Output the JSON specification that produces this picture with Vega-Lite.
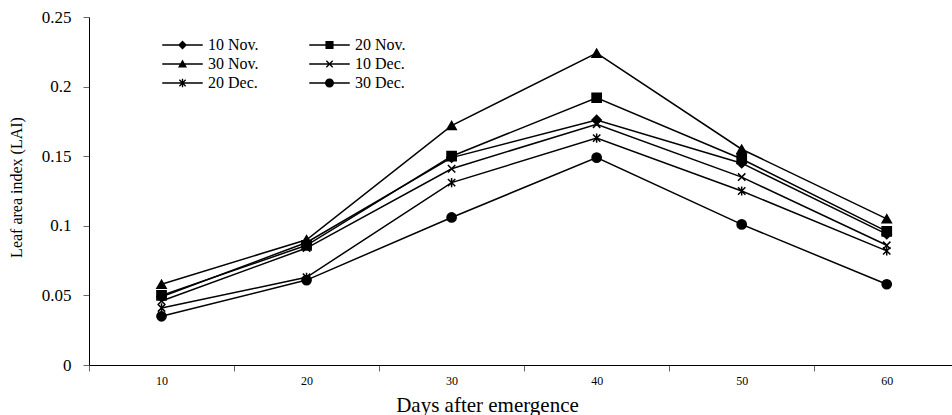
{
  "$schema": "https://vega.github.io/schema/vega-lite/v6.json",
  "width": 863,
  "height": 348,
  "autosize": "none",
  "padding": {"left": 89, "top": 17, "right": 0, "bottom": 50},
  "background": "white",
  "config": {"view": {"stroke": null}, "font": "Liberation Serif"},
  "data": {"values": [
    {"day": 10, "series": "10 Nov.", "lai": 0.049},
    {"day": 20, "series": "10 Nov.", "lai": 0.088},
    {"day": 30, "series": "10 Nov.", "lai": 0.149},
    {"day": 40, "series": "10 Nov.", "lai": 0.176},
    {"day": 50, "series": "10 Nov.", "lai": 0.145},
    {"day": 60, "series": "10 Nov.", "lai": 0.094},
    {"day": 10, "series": "20 Nov.", "lai": 0.050},
    {"day": 20, "series": "20 Nov.", "lai": 0.086},
    {"day": 30, "series": "20 Nov.", "lai": 0.150},
    {"day": 40, "series": "20 Nov.", "lai": 0.192},
    {"day": 50, "series": "20 Nov.", "lai": 0.148},
    {"day": 60, "series": "20 Nov.", "lai": 0.096},
    {"day": 10, "series": "30 Nov.", "lai": 0.058},
    {"day": 20, "series": "30 Nov.", "lai": 0.090},
    {"day": 30, "series": "30 Nov.", "lai": 0.172},
    {"day": 40, "series": "30 Nov.", "lai": 0.224},
    {"day": 50, "series": "30 Nov.", "lai": 0.155},
    {"day": 60, "series": "30 Nov.", "lai": 0.105},
    {"day": 10, "series": "10 Dec.", "lai": 0.046},
    {"day": 20, "series": "10 Dec.", "lai": 0.084},
    {"day": 30, "series": "10 Dec.", "lai": 0.141},
    {"day": 40, "series": "10 Dec.", "lai": 0.173},
    {"day": 50, "series": "10 Dec.", "lai": 0.135},
    {"day": 60, "series": "10 Dec.", "lai": 0.086},
    {"day": 10, "series": "20 Dec.", "lai": 0.041},
    {"day": 20, "series": "20 Dec.", "lai": 0.063},
    {"day": 30, "series": "20 Dec.", "lai": 0.131},
    {"day": 40, "series": "20 Dec.", "lai": 0.163},
    {"day": 50, "series": "20 Dec.", "lai": 0.125},
    {"day": 60, "series": "20 Dec.", "lai": 0.082},
    {"day": 10, "series": "30 Dec.", "lai": 0.035},
    {"day": 20, "series": "30 Dec.", "lai": 0.061},
    {"day": 30, "series": "30 Dec.", "lai": 0.106},
    {"day": 40, "series": "30 Dec.", "lai": 0.149},
    {"day": 50, "series": "30 Dec.", "lai": 0.101},
    {"day": 60, "series": "30 Dec.", "lai": 0.058}
  ]},
  "encoding": {
    "x": {
      "field": "day", "type": "quantitative",
      "scale": {"domain": [5, 64.5], "nice": false, "zero": false},
      "axis": {
        "values": [5, 15, 25, 35, 45, 55],
        "labelExpr": "datum.value + 5",
        "labelOffset": 72.5,
        "labelOverlap": false, "labelFlush": false, "labelBound": false,
        "grid": false,
        "labelFont": "Liberation Serif", "labelFontSize": 12, "labelColor": "black", "labelPadding": 4,
        "tickColor": "#666666", "tickSize": 6, "tickWidth": 1,
        "domainColor": "black", "domainWidth": 1,
        "title": "Days after emergence",
        "titleFont": "Liberation Serif", "titleFontSize": 21, "titleFontWeight": "normal", "titleColor": "black",
        "titleX": 398, "titleY": 46, "titleAnchor": null, "titleAlign": "center", "titleBaseline": "alphabetic"
      }
    },
    "y": {
      "field": "lai", "type": "quantitative",
      "scale": {"domain": [0, 0.25], "nice": false, "zero": true},
      "axis": {
        "values": [0, 0.05, 0.1, 0.15, 0.2, 0.25],
        "format": "~g",
        "grid": false,
        "labelFont": "Liberation Serif", "labelFontSize": 17, "labelColor": "black", "labelPadding": 12,
        "tickColor": "#666666", "tickSize": 6, "tickWidth": 1,
        "domainColor": "black", "domainWidth": 1,
        "title": "Leaf area index (LAI)",
        "titleFont": "Liberation Serif", "titleFontSize": 16, "titleFontWeight": "normal", "titleColor": "black",
        "titleX": -73, "titleY": 170, "titleAngle": -90, "titleAnchor": null, "titleAlign": "center", "titleBaseline": "middle"
      }
    }
  },
  "layer": [
    {
      "mark": {"type": "line", "color": "black", "strokeWidth": 1.5},
      "encoding": {"detail": {"field": "series", "type": "nominal"}}
    },
    {
      "mark": {"type": "point", "filled": true, "fill": "black", "stroke": "black", "strokeWidth": 1.5, "opacity": 1, "size": 85},
      "encoding": {
        "shape": {
          "field": "series", "type": "nominal",
          "scale": {
            "domain": ["10 Nov.", "20 Nov.", "30 Nov.", "10 Dec.", "20 Dec.", "30 Dec."],
            "range": ["diamond", "square", "triangle-up", "M-0.8,-0.8L0.8,0.8M-0.8,0.8L0.8,-0.8", "M-0.8,-0.8L0.8,0.8M-0.8,0.8L0.8,-0.8M0,-1V1", "circle"]
          },
          "legend": null
        }
      }
    },
    {
      "mark": {"type": "point", "filled": true, "fill": "black", "opacity": 0, "size": 1},
      "encoding": {
        "shape": {
          "field": "series", "type": "nominal",
          "scale": {
            "domain": ["10 Nov.", "20 Nov.", "30 Nov.", "10 Dec.", "20 Dec.", "30 Dec."],
            "range": [
              "M-4.5,-0.17H4.5V0.17H-4.5ZM0,-1L1,0L0,1L-1,0Z",
              "M-4.5,-0.17H4.5V0.17H-4.5ZM-0.9,-0.9H0.9V0.9H-0.9Z",
              "M-4.5,-0.17H4.5V0.17H-4.5ZM0,-1L1,0.8H-1Z",
              "M-4.5,-0.17H4.5V0.17H-4.5ZM-0.806,-0.594L-0.594,-0.806L0.806,0.594L0.594,0.806ZM-0.806,0.594L0.594,-0.806L0.806,-0.594L-0.594,0.806Z",
              "M-4.5,-0.17H4.5V0.17H-4.5ZM-0.806,-0.594L-0.594,-0.806L0.806,0.594L0.594,0.806ZM-0.806,0.594L0.594,-0.806L0.806,-0.594L-0.594,0.806ZM-0.15,-0.95H0.15V0.95H-0.15Z",
              "M-4.5,-0.17H4.5V0.17H-4.5ZM1,0A1,1,0,1,1,-1,0A1,1,0,1,1,1,0Z"
            ]
          },
          "legend": {
            "title": null, "orient": "none", "legendX": 85.5, "legendY": 20, "direction": "horizontal",
            "columns": 2, "columnPadding": 49, "rowPadding": 3, "padding": 0,
            "labelFont": "Liberation Serif", "labelFontSize": 16, "labelColor": "black", "labelOffset": 17.5, "labelBaseline": "middle",
            "symbolSize": 81, "symbolStrokeWidth": 0, "symbolFillColor": "black", "symbolOpacity": 1
          }
        }
      }
    }
  ],
  "resolve": {"scale": {"shape": "independent"}, "legend": {"shape": "independent"}}
}
